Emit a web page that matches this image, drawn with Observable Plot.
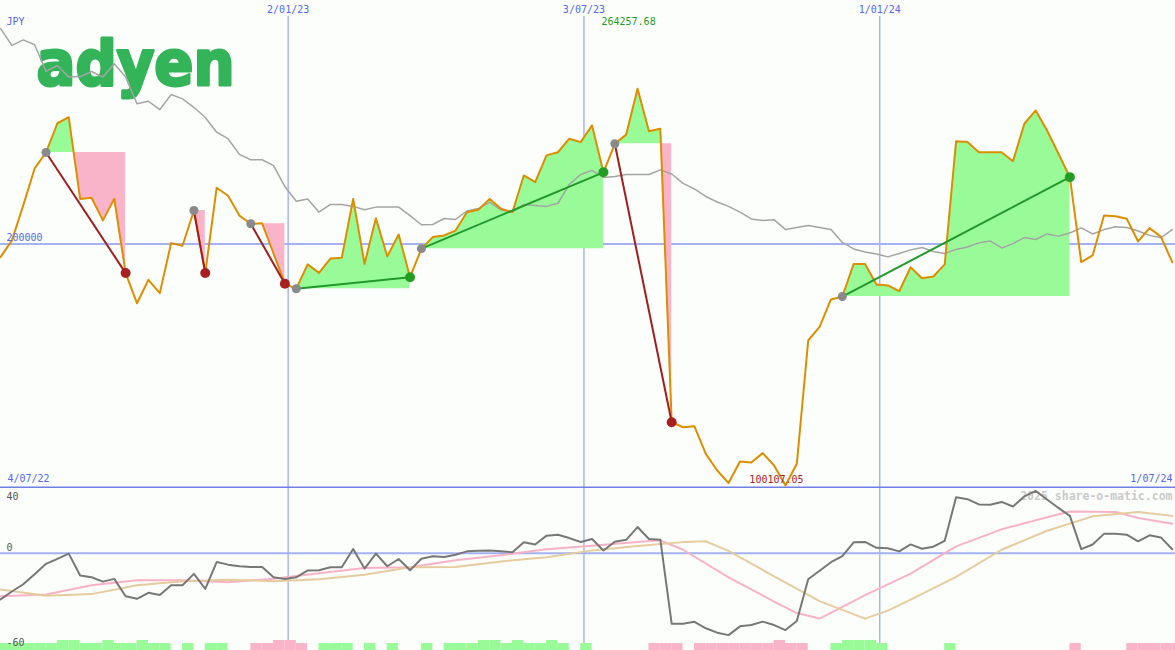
<!DOCTYPE html>
<html><head><meta charset="utf-8">
<script src="https://cdn.jsdelivr.net/npm/d3@7"></script>
<script src="https://cdn.jsdelivr.net/npm/@observablehq/plot@0.6"></script>
<style>
html,body{margin:0;padding:0;background:#fcfefc;}
#chart{width:1175px;height:650px;overflow:hidden;}
#chart svg{display:block;}
</style></head><body><div id="chart"></div>
<script>
// ---------------- data ----------------
const startDate = "2022-07-09";
const endDate = "2024-07-01";
const currency = "JPY";
const logoText = "adyen";
const watermark = "2025 share-o-matic.com";
const refLevel = 200000;

const closePrice = [194600,201500,216000,231300,237900,250000,252500,218700,219200,209800,
 218700,188000,175500,185200,179700,200400,199300,213900,188000,223300,
 220000,211800,208400,208600,196100,183600,181500,191600,188100,194000,
 194300,218700,191800,210700,194900,204000,186300,198100,202900,203600,
 205600,213200,214200,218700,214600,213200,228400,225600,236700,238000,
 243600,242200,249100,229700,241500,245300,264257.68,246700,247700,126300,
 124200,124600,113200,106300,101100,110000,109600,113500,108400,100107.05,
 109100,160100,165700,177100,178300,191800,191800,183300,182900,180500,
 190400,185900,186600,191600,242600,242200,238000,238000,238000,234300,
 249800,255300,247000,237400,227700,192500,195300,211800,211500,210500,
 201100,206600,203100,192500];

const trendLine = [289200,282200,284500,282500,271500,273900,269100,269300,271400,269100,
 274600,269100,258100,259100,255600,261900,260100,256600,252400,246300,
 243600,237100,234900,234900,232500,223800,217700,218700,213200,216400,
 216400,215600,214200,215300,215300,215300,211800,208000,208100,210600,
 210200,213700,214700,217300,214200,213200,216400,216000,215600,216900,
 224700,228800,230500,227600,228000,228800,228800,228800,230700,229000,
 225100,222800,219700,217400,215600,213200,210400,209800,210100,206000,
 206900,207700,206900,206000,200700,198000,196700,195900,194700,196100,
 197600,198600,196900,196100,197800,198800,200500,201300,198400,200200,
 202700,201900,204200,203300,204600,206700,204200,206000,207200,206900,
 205400,203600,202600,206000];

const momentum = [-28.5,-23.6,-19.1,-12.9,-6.5,-3.4,-0.2,-13.7,-14.8,-17.5,
 -15.8,-26.5,-28.1,-24.4,-25.8,-19.7,-19.7,-12.7,-22.0,-5.4,
 -7.0,-8.0,-8.4,-8.4,-14.8,-15.8,-14.8,-10.6,-10.5,-8.6,
 -8.6,2.6,-9.4,-0.2,-8.0,-3.5,-10.5,-3.4,-1.8,-2.3,
 -0.9,1.2,1.5,1.8,1.2,0.6,6.8,5.4,10.9,11.5,
 9.4,7.0,8.8,1.7,7.1,8.3,16.2,8.8,8.4,-43.5,
 -43.5,-42.3,-46.3,-49.0,-50.5,-45.1,-44.3,-42.2,-44.3,-47.4,
 -41.8,-16.0,-10.8,-5.5,-1.8,6.8,7.0,3.4,3.1,1.2,
 5.5,2.8,4.1,7.7,34.6,33.4,30.2,30.0,31.7,28.9,
 35.1,38.5,33.2,28.0,23.1,2.6,5.4,12.0,12.0,11.5,
 7.4,11.1,9.8,2.5];

const fastIdx = [0,4,8,12,16,20,24,28,32,36,40,44,48,52,56,58,60,64,68,70,72,76,80,84,88,92,94,98,100,103];
const fastMA  = [-26.5,-25.4,-19.7,-16.6,-16.6,-17.8,-15.7,-12.3,-9.1,-8.6,-4.3,-1.2,2.5,4.6,7.0,8.0,2.2,-14.9,-29.8,-36.9,-40.3,-25.8,-12.6,4.3,14.8,22.2,25.8,25.5,21.8,18.2];

const slowIdx = [0,4,8,12,16,20,24,28,32,36,40,44,48,52,56,60,62,64,68,72,76,78,80,84,88,92,96,100,103];
const slowMA  = [-22.3,-26.2,-25.2,-19.7,-17.2,-16.3,-17.2,-16.0,-13.2,-8.6,-8.4,-5.0,-2.5,1.8,4.5,6.9,7.4,1.5,-14.2,-29.5,-40.3,-35.4,-28.6,-14.5,2.2,13.9,22.8,25.5,23.1];

const signalBars = [1,1,1,1,1,2,2,1,1,2,
 1,1,2,1,1,0,1,0,1,1,
 0,0,-1,-1,-2,-2,-1,0,1,1,
 1,0,1,0,1,0,0,1,0,1,
 1,1,2,2,1,2,1,1,2,1,
 0,1,0,0,0,0,0,-1,-1,-1,
 0,-1,-1,-1,-1,-1,-1,-1,-2,-1,
 -1,0,0,1,2,2,2,1,0,0,
 0,0,0,1,0,0,0,0,0,0,
 0,0,0,0,-1,0,0,0,0,-1,
 -1,-1,-1,-1];

const tradeEntry = [4,17,22,26,37,54,74];
const tradeExit  = [11,18,25,36,53,59,94];

const gridDates  = ["2023-01-02","2023-07-03","2024-01-01"];
const gridLabels = ["2/01/23","3/07/23","1/01/24"];
const edgeLabels = ["4/07/22","1/07/24"];
const momentumTicks = [40, 0, -60];

// ---------------- derived ----------------
const DAY = 864e5;
const t0 = Date.parse(startDate);
const dates = closePrice.map((_, i) => new Date(t0 + i * 7 * DAY));
const rows = closePrice.map((c, i) => ({date: dates[i], close: c, trend: trendLine[i], mom: momentum[i], bar: signalBars[i]}));
const fastRows = fastIdx.map((i, k) => ({date: dates[i], v: fastMA[k]}));
const slowRows = slowIdx.map((i, k) => ({date: dates[i], v: slowMA[k]}));
const trades = tradeEntry.map((e, k) => {
  const x = tradeExit[k];
  return {d1: dates[e], p1: closePrice[e], d2: dates[x], p2: closePrice[x], gain: closePrice[x] > closePrice[e], e, x};
});
const fillPts = [];
trades.forEach((t, k) => {
  const L = t.p1;
  for (let i = t.e; i <= t.x; i++) {
    const p = closePrice[i];
    fillPts.push({trade: k, date: dates[i], level: L, p});
    if (i < t.x) {
      const q = closePrice[i + 1];
      if ((p - L) * (q - L) < 0) {
        const f = (L - p) / (q - p);
        fillPts.push({trade: k, date: new Date(+dates[i] + f * (dates[i + 1] - dates[i])), level: L, p: L});
      }
    }
  }
});
const iMax = closePrice.indexOf(d3.max(closePrice));
const iMin = closePrice.indexOf(d3.min(closePrice));
const gridD = gridDates.map(d => new Date(d));

const mono = "DejaVu Sans Mono";
const blue = "#5566ee";
const gridBlue = "#a8b5f2";
const xDomain = [new Date(startDate), new Date(endDate)];
const yTop = [98862, 300796];

const mainChart = Plot.plot({
  width: 1175, height: 488, margin: 0,
  style: {background: "#fcfefc", overflow: "hidden"},
  x: {type: "utc", domain: xDomain, axis: null},
  y: {domain: yTop, axis: null},
  marks: [
    Plot.ruleX(gridD, {x: d => d, insetTop: 16, stroke: gridBlue, strokeWidth: 1.5}),
    Plot.ruleY([refLevel], {y: d => d, stroke: "#a4b2f2", strokeWidth: 2}),
    Plot.ruleY([yTop[0]], {y: d => d, dy: -1, stroke: "#6f7fe6", strokeWidth: 2}),
    Plot.areaY(fillPts, {x: "date", y1: "level", y2: d => Math.max(d.p, d.level), z: "trade", fill: "#98fb98"}),
    Plot.areaY(fillPts, {x: "date", y1: "level", y2: d => Math.min(d.p, d.level), z: "trade", fill: "#f9b4ca"}),
    Plot.text([logoText], {frameAnchor: "top-left", dx: 36, dy: 64.5, textAnchor: "start", lineAnchor: "middle",
      fontSize: 62, fontWeight: "bold", fontFamily: "DejaVu Sans", fill: "#33b459", stroke: "#33b459", strokeWidth: 3, strokeLinejoin: "round"}),
    Plot.line(rows, {x: "date", y: "trend", stroke: "#a4a4a4", strokeWidth: 1.5}),
    Plot.line(rows, {x: "date", y: "close", stroke: "#dd8e00", strokeWidth: 2}),
    Plot.link(trades.filter(t => !t.gain), {x1: "d1", y1: "p1", x2: "d2", y2: "p2", stroke: "#a01e1e", strokeWidth: 2}),
    Plot.link(trades.filter(t => t.gain), {x1: "d1", y1: "p1", x2: "d2", y2: "p2", stroke: "#22992a", strokeWidth: 2}),
    Plot.dot(trades, {x: "d1", y: "p1", r: 4.5, fill: "#8a8a8a"}),
    Plot.dot(trades.filter(t => !t.gain), {x: "d2", y: "p2", r: 5, fill: "#a81f1f"}),
    Plot.dot(trades.filter(t => t.gain), {x: "d2", y: "p2", r: 5, fill: "#249d24"}),
    Plot.text([currency], {frameAnchor: "top-left", dx: 6, dy: 21, textAnchor: "start", lineAnchor: "middle", fontFamily: mono, fontSize: 10, fill: blue}),
    Plot.text([refLevel], {y: d => d, text: d => String(d), frameAnchor: "left", dx: 6, dy: -6, textAnchor: "start", lineAnchor: "middle", fontFamily: mono, fontSize: 10, fill: blue}),
    Plot.text(gridD, {x: d => d, text: (d, i) => gridLabels[i], frameAnchor: "top", dy: 9, lineAnchor: "middle", fontFamily: mono, fontSize: 10, fill: blue}),
    Plot.text([edgeLabels[0]], {frameAnchor: "bottom-left", dx: 7, dy: -10, textAnchor: "start", lineAnchor: "middle", fontFamily: mono, fontSize: 10, fill: blue}),
    Plot.text([edgeLabels[1]], {frameAnchor: "bottom-right", dx: -3, dy: -10, textAnchor: "end", lineAnchor: "middle", fontFamily: mono, fontSize: 10, fill: blue}),
    Plot.text([iMax], {x: i => dates[i], text: i => closePrice[i].toFixed(2), frameAnchor: "top", dx: -9, dy: 21, lineAnchor: "middle", fontFamily: mono, fontSize: 10, fill: "#1f9a1f"}),
    Plot.text([iMin], {x: i => dates[i], text: i => closePrice[i].toFixed(2), frameAnchor: "bottom", dx: -9, dy: -9, lineAnchor: "middle", fontFamily: mono, fontSize: 10, fill: "#a51d1d"})
  ]
});

const lowerChart = Plot.plot({
  width: 1175, height: 162, margin: 0,
  style: {background: "#fcfefc", overflow: "hidden"},
  x: {type: "utc", domain: xDomain, axis: null},
  y: {domain: [-60, 40], axis: null},
  marks: [
    Plot.ruleX(gridD, {x: d => d, stroke: gridBlue, strokeWidth: 1.5}),
    Plot.ruleY([0], {y: d => d, stroke: "#a4b2f2", strokeWidth: 2}),
    Plot.rectY(rows.filter(d => d.bar > 0), {x1: "date", x2: d => new Date(+d.date + 7 * DAY), y1: () => -60, y2: d => -60 + (d.bar > 1 ? 6.2 : 4.3), fill: "#98fb98"}),
    Plot.rectY(rows.filter(d => d.bar < 0), {x1: "date", x2: d => new Date(+d.date + 7 * DAY), y1: () => -60, y2: d => -60 + (d.bar < -1 ? 6.2 : 4.3), fill: "#f9b4ca"}),
    Plot.text([watermark], {frameAnchor: "top-right", dx: -3, dy: 8, textAnchor: "end", lineAnchor: "middle", fontFamily: mono, fontSize: 11.5, fontWeight: "bold", fill: "#cacaca"}),
    Plot.text([momentumTicks[0]], {text: d => String(d), frameAnchor: "top-left", dx: 6, dy: 8, textAnchor: "start", lineAnchor: "middle", fontFamily: mono, fontSize: 10, fill: "#555"}),
    Plot.text([momentumTicks[1]], {y: d => d, text: d => String(d), frameAnchor: "left", dx: 6, dy: -6, textAnchor: "start", lineAnchor: "middle", fontFamily: mono, fontSize: 10, fill: "#555"}),
    Plot.text([momentumTicks[2]], {text: d => String(d), frameAnchor: "bottom-left", dx: 6, dy: -8, textAnchor: "start", lineAnchor: "middle", fontFamily: mono, fontSize: 10, fill: "#555"}),
    Plot.line(fastRows, {x: "date", y: "v", stroke: "#f8b2c6", strokeWidth: 2}),
    Plot.line(slowRows, {x: "date", y: "v", stroke: "#e6cb9c", strokeWidth: 2}),
    Plot.line(rows, {x: "date", y: "mom", stroke: "#777777", strokeWidth: 2})
  ]
});

const chart = document.getElementById("chart");
chart.appendChild(mainChart);
chart.appendChild(lowerChart);
mainChart.querySelectorAll("text").forEach(t => {
  if (t.textContent === logoText) { t.setAttribute("textLength", 198); t.setAttribute("lengthAdjust", "spacingAndGlyphs"); }
});
</script>
</body></html>
